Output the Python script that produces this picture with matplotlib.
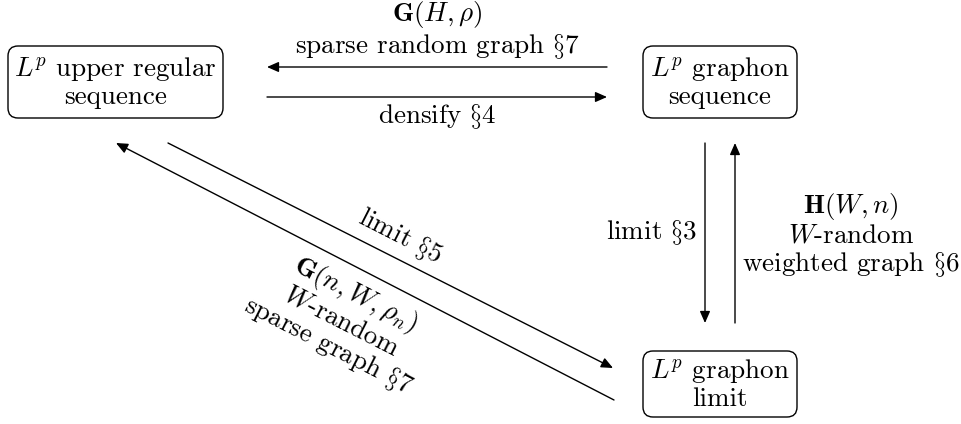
import matplotlib
matplotlib.use("Agg")
import matplotlib.pyplot as plt
from matplotlib.patches import FancyBboxPatch, FancyArrowPatch, ArrowStyle

plt.rcParams['font.family'] = 'cmr10'
plt.rcParams['mathtext.fontset'] = 'cm'
plt.rcParams['axes.unicode_minus'] = False

# Nodes: label, center (px), box size (px)
node_labels = [r"$L^p$ upper regular" + "\n" + "sequence",
               r"$L^p$ graphon" + "\n" + "sequence",
               r"$L^p$ graphon" + "\n" + "limit"]
node_centers = [(115.5, 82), (720, 82), (720, 384)]
node_sizes = [(215, 72), (154, 72), (154, 66)]

# Edges: (start, end)
edges = [((607, 67), (267, 67)),
         ((267, 97), (607, 97)),
         ((705, 143), (705, 323)),
         ((735, 323), (735, 143)),
         ((168, 143), (613, 368)),
         ((614, 400), (116, 143))]

# Edge labels: text, position, alignment, rotation
edge_labels = [
    (r"$\mathbf{G}(H,\rho)$" + "\n" + r"sparse random graph $\S$7", (437, 30), 'center', 0),
    (r"densify $\S$4", (437, 117), 'center', 0),
    (r"limit $\S$3", (697, 233), 'right', 0),
    (r"$\mathbf{H}(W,n)$" + "\n" + r"$W$-random" + "\n" + r"weighted graph $\S$6", (851, 235), 'center', 0),
    (r"limit $\S$5", (400, 237), 'center', -27),
    (r"$\mathbf{G}(n,W,\rho_n)$" + "\n" + r"$W$-random" + "\n" + r"sparse graph $\S$7", (342, 320), 'center', -27),
]

FS = 19.5

fig = plt.figure(figsize=(9.61, 4.24), dpi=100)
ax = fig.add_axes([0, 0, 1, 1])
ax.set_xlim(0, 961)
ax.set_ylim(424, 0)
ax.axis('off')

for lab, (cx, cy), (w, h) in zip(node_labels, node_centers, node_sizes):
    r = 10
    box = FancyBboxPatch((cx - w / 2 + r, cy - h / 2 + r), w - 2 * r, h - 2 * r,
                         boxstyle=f"round,pad={r},rounding_size={r}",
                         fc='white', ec='black', lw=1.0)
    ax.add_patch(box)
    ax.text(cx, cy, lab, ha='center', va='center', fontsize=FS,
            linespacing=1.1, multialignment='center')

style = ArrowStyle('-|>', head_length=0.5, head_width=0.22)
for (s, e) in edges:
    a = FancyArrowPatch(s, e, arrowstyle=style, mutation_scale=14,
                        color='black', lw=1.0, shrinkA=0, shrinkB=0)
    ax.add_patch(a)

for txt, (x, y), ha, rot in edge_labels:
    ax.text(x, y, txt, ha=ha, va='center', fontsize=FS, rotation=rot,
            linespacing=1.1, multialignment='center',
            rotation_mode='default')

fig.savefig('out.png', dpi=100)
